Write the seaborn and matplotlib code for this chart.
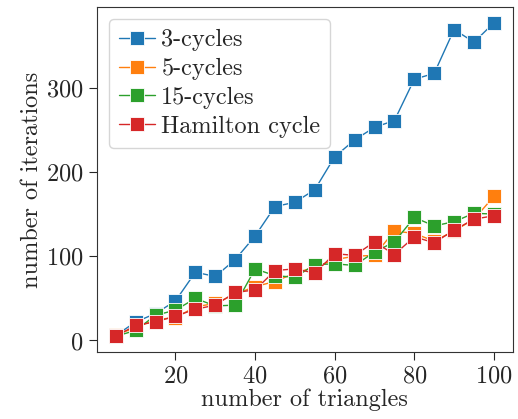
import numpy as np
import pandas as pd
import matplotlib
matplotlib.use('Agg')
import matplotlib.pyplot as plt
import seaborn as sns

triangles = list(range(5, 101, 5))
cycles3 = [6, 22, 32, 47, 81, 76, 96, 124, 159, 164, 179, 218, 238, 253, 261, 310, 317, 369, 354, 377]
cycles5 = [7, 15, 25, 27, 40, 44, 55, 64, 70, 80, 87, 96, 100, 101, 130, 127, 118, 130, 144, 171]
cycles15 = [5, 12, 30, 36, 50, 41, 42, 85, 77, 75, 90, 91, 89, 105, 117, 146, 136, 141, 151, 150]
hamilton = [5, 18, 22, 29, 37, 42, 57, 60, 83, 85, 80, 103, 101, 117, 102, 123, 116, 131, 144, 148]
labels = ['3-cycles', '5-cycles', '15-cycles', 'Hamilton cycle']

df = pd.DataFrame({
    'triangles': triangles * 4,
    'iterations': cycles3 + cycles5 + cycles15 + hamilton,
    'kind': [l for l in labels for _ in triangles],
})

sns.set_style('ticks')
plt.rcParams['font.family'] = 'serif'
plt.rcParams['font.serif'] = ['cmr10']
plt.rcParams['mathtext.fontset'] = 'cm'
plt.rcParams['axes.formatter.use_mathtext'] = True

fig = plt.figure(figsize=(5.18, 4.19), dpi=100)
ax = fig.add_axes([0.187, 0.160, 0.803, 0.823])
sns.lineplot(df, x='triangles', y='iterations', hue='kind', palette='tab10',
             marker='s', markersize=10, linewidth=1, markeredgewidth=0.6, ax=ax)
ax.set_xlabel('number of triangles', fontsize=17.5, labelpad=1)
ax.set_ylabel('number of iterations', fontsize=17.5, labelpad=2)
ax.set_xticks([20, 40, 60, 80, 100])
ax.set_yticks([0, 100, 200, 300])
ax.tick_params(labelsize=17.5, length=6)
for s in ax.spines.values():
    s.set_color('#333333')
leg = ax.legend(loc='upper left', fontsize=17.5, handlelength=1.5, borderpad=0.4,
                labelspacing=0.28, handletextpad=0.25, borderaxespad=0.5)
fig.savefig('out.png', dpi=100)
